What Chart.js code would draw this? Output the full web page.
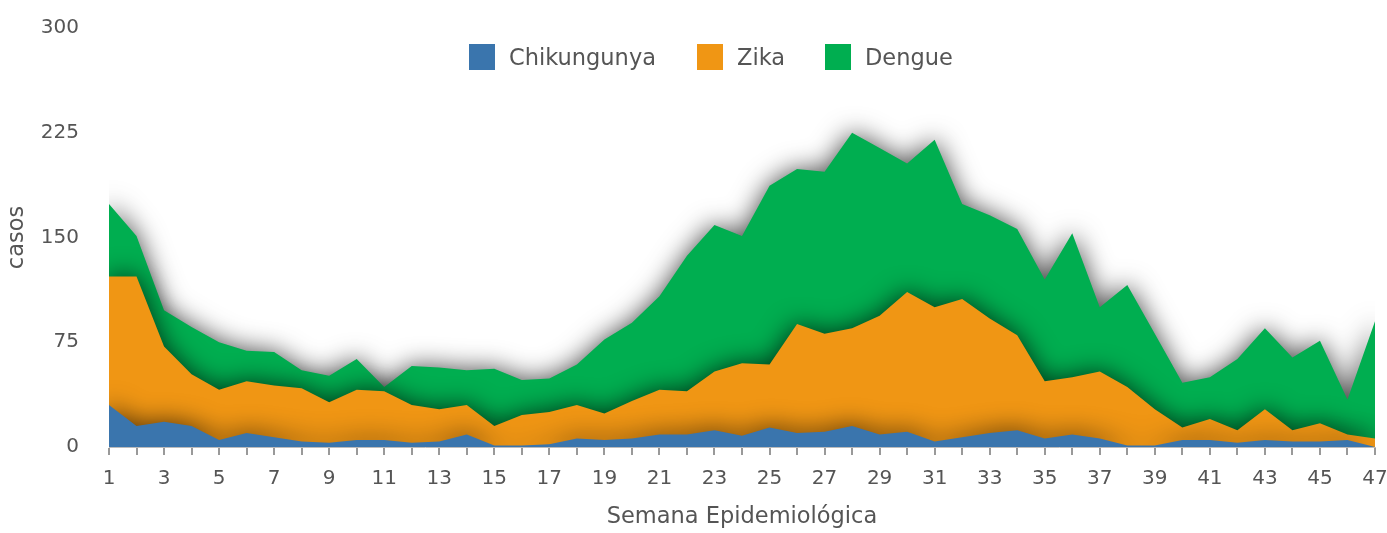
<!DOCTYPE html>
<html lang="pt-BR">
<head>
  <meta charset="UTF-8" />
  <title>Casos por Semana Epidemiológica</title>
  <script src="https://cdn.jsdelivr.net/npm/chart.js"></script>
  <style>
    body { margin: 0; background: #fff; font-family: "DejaVu Sans", sans-serif; overflow: hidden; }
    .wrap { position: relative; width: 1387px; height: 533px; }
    .legend-item { position: absolute; top: 44px; height: 26px; display: flex; align-items: center; font-size: 22.5px; color: #555; white-space: nowrap; }
    .legend-item i { display: inline-block; width: 26px; height: 26px; margin-right: 14px; }
  </style>
</head>
<body>
  <div class="wrap">
    <canvas id="grafico"></canvas>
    <div class="legend-item" style="left:469px"><i style="background:#3a75ad"></i>Chikungunya</div>
    <div class="legend-item" style="left:697px"><i style="background:#f09614"></i>Zika</div>
    <div class="legend-item" style="left:825px"><i style="background:#00ae50"></i>Dengue</div>
  </div>

  <script>
    const semanas = ['1','2','3','4','5','6','7','8','9','10','11','12','13','14','15','16','17','18','19','20',
      '21','22','23','24','25','26','27','28','29','30','31','32','33','34','35','36','37','38','39','40',
      '41','42','43','44','45','46','47'];
    const chikungunya = [30,15,18,15,5,10,7,4,3,5,5,3,4,9,1,1,2,6,5,6,9,9,12,8,14,10,11,15,9,11,4,7,10,12,6,9,6,1,1,5,5,3,5,4,4,5,0];
    const zika = [92,107,54,37,36,37,37,38,29,36,35,27,23,21,14,22,23,24,19,27,32,31,42,52,45,78,70,70,85,100,96,99,82,68,41,41,48,42,26,9,15,9,22,8,13,4,6];
    const dengue = [52,29,26,34,34,22,24,13,19,22,3,28,30,25,41,25,24,29,53,56,67,97,105,91,128,111,116,140,120,92,120,68,74,76,73,103,46,73,54,32,30,51,58,52,59,25,84];
    const yTicks = [0, 75, 150, 225, 300];

    // sombra nas áreas
    const sombra = {
      id: 'sombra',
      beforeDatasetsDraw(chart) {
        const ctx = chart.ctx;
        ctx.save();
        ctx.shadowColor = 'rgba(0, 0, 0, 0.72)';
        ctx.shadowBlur = 26;
      },
      afterDatasetsDraw(chart) {
        chart.ctx.restore();
      }
    };

    const area = (label, data, cor) => ({
      label: label,
      data: data,
      backgroundColor: cor,
      borderColor: 'transparent',
      borderWidth: 0,
      pointRadius: 0,
      fill: 'origin',
      tension: 0
    });

    new Chart(document.getElementById('grafico'), {
      type: 'line',
      data: {
        labels: semanas,
        datasets: [
          area('Chikungunya', chikungunya, '#3a75ad'),
          area('Zika', zika, '#f09614'),
          area('Dengue', dengue, '#00ae50')
        ]
      },
      options: {
        responsive: true,
        maintainAspectRatio: false,
        animation: false,
        layout: { padding: { top: 28, right: 12, left: 0, bottom: 0 } },
        plugins: {
          legend: { display: false },
          tooltip: { enabled: false }
        },
        scales: {
          x: {
            grid: { drawOnChartArea: false, drawTicks: true, tickLength: 8, color: '#999', lineWidth: 2 },
            border: { display: true, color: '#bbb', width: 1 },
            ticks: {
              autoSkip: false,
              maxRotation: 0,
              padding: 12,
              color: '#555',
              font: { family: 'DejaVu Sans', size: 20 },
              callback: (v, i) => (i % 2 === 0 ? semanas[i] : '')
            },
            title: {
              display: true,
              text: 'Semana Epidemiológica',
              color: '#555',
              font: { family: 'DejaVu Sans', size: 22.5 },
              padding: { top: 0, bottom: 2 }
            },
            afterFit: (s) => { s.height = 86; s.paddingLeft = 0; s.paddingRight = 0; }
          },
          y: {
            stacked: true,
            min: 0,
            max: 300,
            afterBuildTicks: (s) => { s.ticks = yTicks.map(v => ({ value: v })); },
            grid: { display: false, drawTicks: false },
            border: { display: false },
            ticks: {
              padding: 30,
              color: '#555',
              font: { family: 'DejaVu Sans', size: 20 }
            },
            title: {
              display: true,
              text: 'casos',
              color: '#555',
              font: { family: 'DejaVu Sans', size: 22.5 },
              padding: { top: 4, bottom: 0 }
            },
            afterFit: (s) => { s.width = 109; s.paddingTop = 0; s.paddingBottom = 0; }
          }
        }
      },
      plugins: [sombra]
    });
  </script>
</body>
</html>
